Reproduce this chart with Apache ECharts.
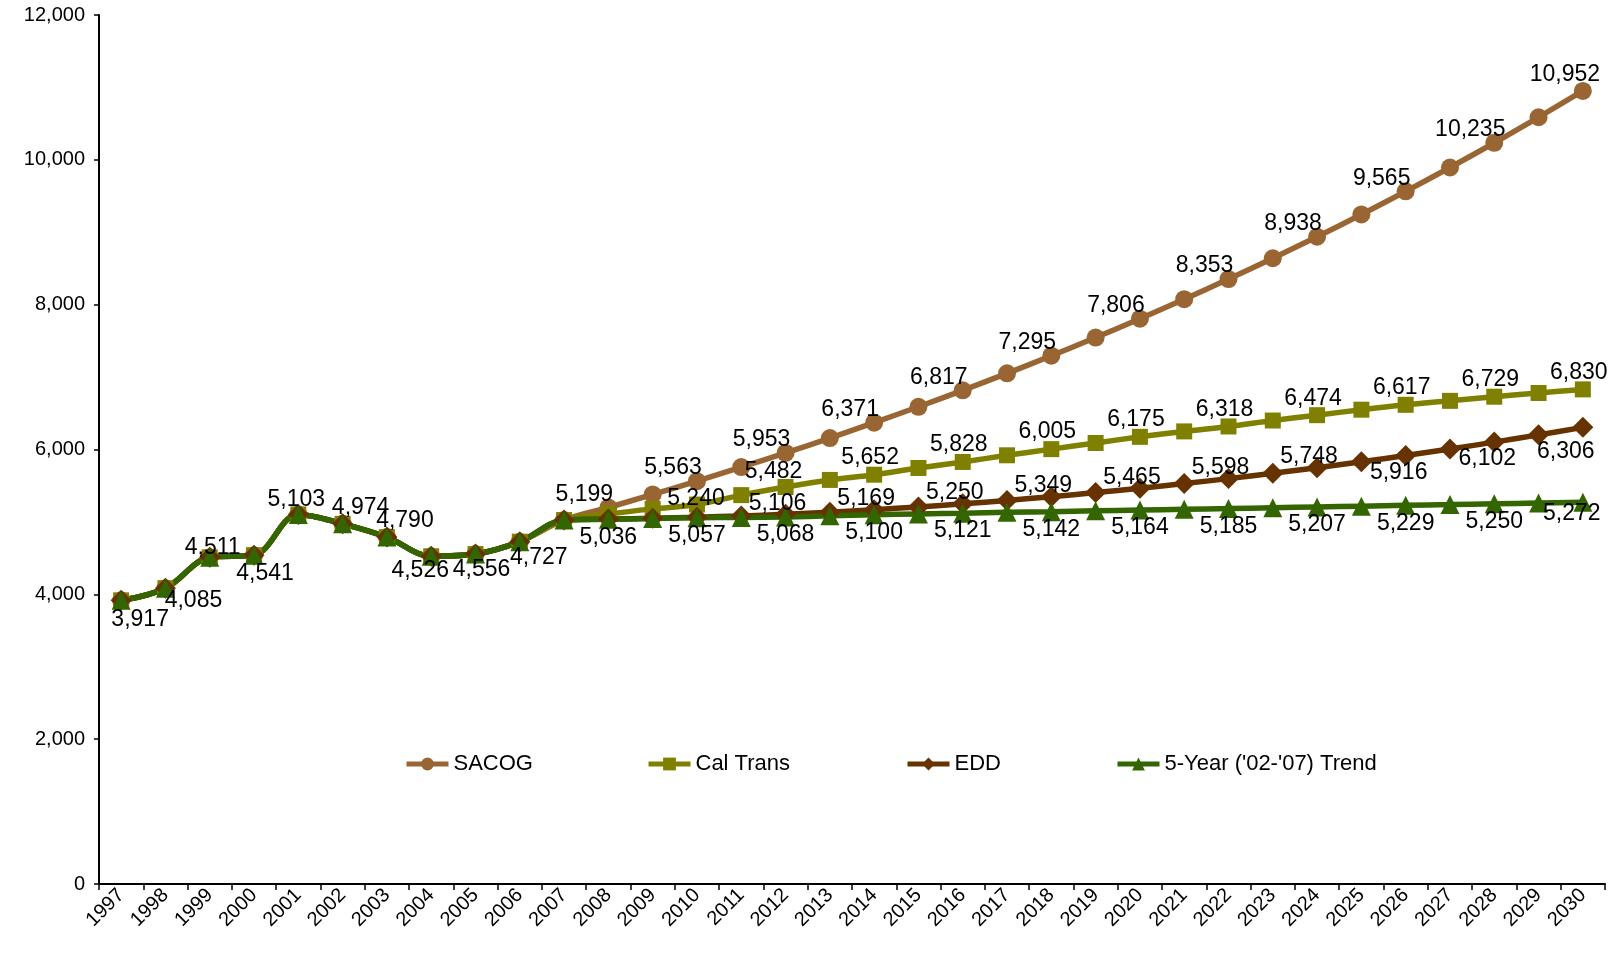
<!DOCTYPE html>
<html>
<head>
<meta charset="utf-8">
<title>Employment projections 1997-2030</title>
<script src="https://cdn.jsdelivr.net/npm/echarts@6/dist/echarts.min.js"></script>
<style>
  html, body { margin: 0; padding: 0; background: #fff; }
  #chart { width: 1612px; height: 956px; }
</style>
</head>
<body>
<div id="chart"></div>
<script>
// Years on the category axis
const years = [];
for (let y = 1997; y <= 2030; y++) years.push(String(y));

// Observed values 1997-2007, shared by every projection
const history = [3917, 4085, 4511, 4541, 5103, 4974, 4790, 4526, 4556, 4727, 5026];

// Projections 2008-2030
const sacog = [5199, 5380, 5563, 5757, 5953, 6158, 6371, 6590, 6817, 7052, 7295, 7546,
               7806, 8075, 8353, 8641, 8938, 9246, 9565, 9894, 10235, 10588, 10952];
const calTrans = [5110, 5180, 5240, 5370, 5482, 5580, 5652, 5745, 5828, 5920, 6005, 6090,
                  6175, 6250, 6318, 6400, 6474, 6550, 6617, 6672, 6729, 6780, 6830];
const edd = [5040, 5050, 5065, 5083, 5106, 5135, 5169, 5207, 5250, 5297, 5349, 5405,
             5465, 5530, 5598, 5671, 5748, 5830, 5916, 6007, 6102, 6202, 6306];
const trend = [5036, 5047, 5057, 5062, 5068, 5084, 5100, 5111, 5121, 5132, 5142, 5153,
               5164, 5175, 5185, 5196, 5207, 5218, 5229, 5239, 5250, 5261, 5272];

const seriesNames = ['SACOG', 'Cal Trans', 'EDD', "5-Year ('02-'07) Trend"];
const seriesColors = ['#996633', '#808000', '#663300', '#336600'];
const seriesSymbols = ['circle', 'rect', 'diamond', 'triangle'];
const symbolSizes = [18, 16, 21, 19];

// Where each value label sits relative to its point (px, label centre)
const histLabelPos = {
  '1997': [19, 19], '1998': [28, 12], '1999': [3, -10], '2000': [11, 19],
  '2001': [-2, -15], '2002': [18, -16], '2003': [18, -16], '2004': [-11, 14],
  '2005': [6, 16], '2006': [19, 16]
};
function evenYear(y) { return +y >= 2008 && (+y % 2 === 0); }
const labelRules = [
  // SACOG
  function (y) { if (!evenYear(y)) return null; return y === '2030' ? [-18, -16] : [-24, -13]; },
  // Cal Trans
  function (y) {
    if (!evenYear(y) || +y < 2010) return null;
    if (y === '2010') return [-1, -6];
    if (y === '2012') return [-12, -15];
    return [-4, -17];
  },
  // EDD
  function (y) {
    if (!evenYear(y) || +y < 2012) return null;
    if (+y <= 2024) return [-8, -11];
    return y === '2030' ? [-17, 24] : [-7, 17];
  },
  // Trend (also carries the historical labels)
  function (y) {
    if (histLabelPos[y]) return histLabelPos[y];
    if (!evenYear(y)) return null;
    return y === '2030' ? [-11, 11] : [0, 18];
  }
];

const fmt = v => v.toLocaleString('en-US');
const projections = [sacog, calTrans, edd, trend];
const FONT = "'Liberation Sans', Arial, sans-serif";

const series = projections.map((proj, i) => {
  const values = history.concat(proj);
  return {
    name: seriesNames[i],
    type: 'line',
    smooth: 0.35,
    symbol: seriesSymbols[i],
    symbolSize: symbolSizes[i],
    itemStyle: { color: seriesColors[i] },
    lineStyle: { color: seriesColors[i], width: 5.5 },
    emphasis: { disabled: true },
    data: values.map((v, k) => {
      const off = labelRules[i](years[k]);
      const item = { value: v };
      if (off) {
        item.label = {
          show: true, position: 'inside', offset: off,
          formatter: fmt(v), color: '#000', fontSize: 23, fontFamily: FONT
        };
      }
      return item;
    })
  };
});

const legendLefts = [404, 646, 905, 1115];
const legends = seriesNames.map((n, i) => ({
  data: [n],
  left: legendLefts[i],
  top: 753,
  padding: 0,
  itemWidth: 42,
  itemHeight: 16,
  lineStyle: { width: 5 },
  textStyle: { fontSize: 22, color: '#000', fontFamily: FONT },
  selectedMode: false
}));

const chart = echarts.init(document.getElementById('chart'), null, { renderer: 'canvas' });
chart.setOption({
  animation: false,
  backgroundColor: '#fff',
  textStyle: { fontFamily: FONT },
  grid: { left: 99, right: 7, top: 15, bottom: 72, containLabel: false },
  legend: legends,
  xAxis: {
    type: 'category',
    data: years,
    boundaryGap: true,
    axisLine: { lineStyle: { color: '#000', width: 2 } },
    axisTick: { show: true, length: 6, lineStyle: { color: '#000', width: 1.5 } },
    axisLabel: { rotate: 45, interval: 0, fontSize: 20, color: '#000', margin: 8, fontFamily: FONT }
  },
  yAxis: {
    type: 'value',
    min: 0, max: 12000, interval: 2000,
    splitLine: { show: false },
    axisLine: { show: true, lineStyle: { color: '#000', width: 2 } },
    axisTick: { show: true, length: 5, lineStyle: { color: '#000', width: 1.5 } },
    axisLabel: { formatter: v => fmt(v), fontSize: 20, color: '#000', margin: 14, fontFamily: FONT }
  },
  series: series
});
</script>
</body>
</html>
